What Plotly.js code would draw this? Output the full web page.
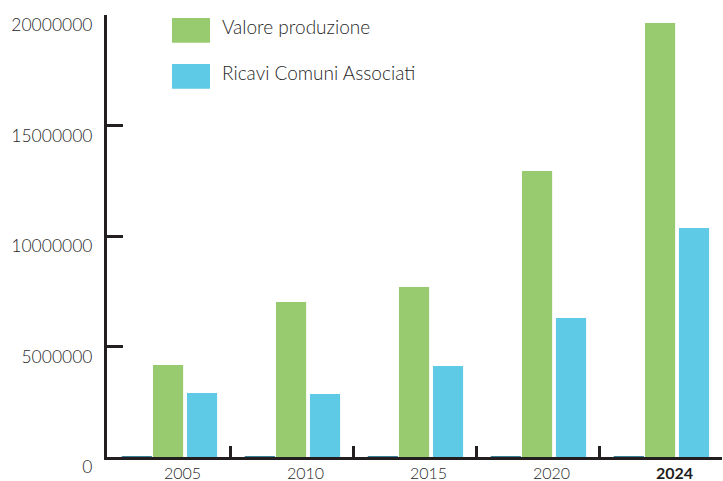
<!DOCTYPE html>
<html>
<head>
<meta charset="utf-8">
<script src="https://cdn.plot.ly/plotly-3.0.1.min.js"></script>
<style>
html,body{margin:0;padding:0;background:#fff;}
#chart{width:723px;height:481px;}
</style>
</head>
<body>
<div id="chart"></div>
<script>
const categories = ['2005', '2010', '2015', '2020', '2024'];
const tickLabels = ['2005', '2010', '2015', '2020', '<b>2024</b>'];
const baseSeries = [40000, 40000, 40000, 40000, 40000];
const valoreProduzione = [4160000, 7010000, 7690000, 12940000, 19640000];
const ricaviComuni = [2900000, 2850000, 4120000, 6290000, 10360000];
const seriesNames = ['Valore produzione', 'Ricavi Comuni Associati'];
const yTicks = [0, 5000000, 10000000, 15000000, 20000000];

const FONT = 'Lato, "Open Sans", sans-serif';
const TXT = '#1f1f1f';
const AX = '#231f20';

const traces = [
  {type:'bar', x:categories, y:baseSeries, name:'base', showlegend:false,
   marker:{color:'#1f6f8b'}, offset:-0.38, width:0.245, hoverinfo:'skip'},
  {type:'bar', x:categories, y:valoreProduzione, name:seriesNames[0], showlegend:false,
   marker:{color:'#98cb6f'}, offset:-0.126, width:0.245},
  {type:'bar', x:categories, y:ricaviComuni, name:seriesNames[1], showlegend:false,
   marker:{color:'#5ecae6'}, offset:0.15, width:0.245}
];

const layout = {
  width:723, height:481,
  margin:{l:107, r:1, t:15, b:24, autoexpand:false},
  paper_bgcolor:'#fff', plot_bgcolor:'#fff',
  barmode:'overlay',
  font:{family:FONT, color:TXT},
  showlegend:false,
  xaxis:{
    type:'category', tickvals:categories, ticktext:tickLabels,
    showline:true, linecolor:AX, linewidth:3,
    ticks:'inside', tickson:'boundaries', ticklen:11, tickwidth:3, tickcolor:AX,
    tickfont:{size:16, color:TXT, family:FONT, weight:300},
    ticklabelshift:14, ticklabelstandoff:0,
    showgrid:false, zeroline:false, fixedrange:true, automargin:false
  },
  yaxis:{
    range:[0, 20000000], tickvals:yTicks, ticktext:yTicks.map(String),
    showline:true, linecolor:AX, linewidth:3,
    ticks:'inside', ticklen:16, tickwidth:3, tickcolor:AX,
    tickfont:{size:17.5, color:TXT, family:FONT, weight:300},
    ticklabelshift:10, ticklabelstandoff:8,
    showgrid:false, zeroline:false, fixedrange:true, automargin:false
  },
  shapes:[
    {type:'rect', xref:'paper', yref:'paper', x0:0.1057, x1:0.1675, y0:0.937, y1:0.993,
     fillcolor:'#98cb6f', line:{width:0}},
    {type:'rect', xref:'paper', yref:'paper', x0:0.1057, x1:0.1675, y0:0.833, y1:0.889,
     fillcolor:'#5ecae6', line:{width:0}}
  ],
  annotations:[
    {xref:'paper', yref:'paper', x:0.1837, y:0.973, xanchor:'left', yanchor:'middle',
     text:seriesNames[0], showarrow:false, font:{size:19, color:TXT, family:FONT, weight:300}},
    {xref:'paper', yref:'paper', x:0.1837, y:0.869, xanchor:'left', yanchor:'middle',
     text:seriesNames[1], showarrow:false, font:{size:19, color:TXT, family:FONT, weight:300}}
  ]
};

Plotly.newPlot('chart', traces, layout, {displayModeBar:false, staticPlot:true});
</script>
</body>
</html>
